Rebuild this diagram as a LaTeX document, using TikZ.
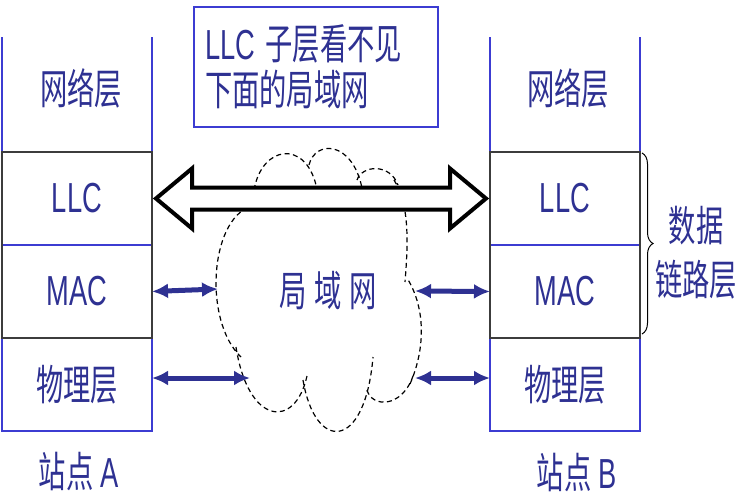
\documentclass[tikz,border=0pt]{standalone}
\usepackage{fontspec}
\setmainfont{Liberation Sans}
\newfontfamily\cjk{Noto Sans CJK SC}
\usepackage{graphicx}
\usepackage{xcolor}
\usepackage{tikz}
\usetikzlibrary{calc,positioning,arrows.meta,decorations.pathreplacing}

\definecolor{txtblue}{RGB}{46,49,146}
\definecolor{lineblue}{RGB}{60,60,210}
\definecolor{framegray}{RGB}{60,60,60}
\newcommand{\sq}[1]{\scalebox{0.65}[1]{#1}}

\begin{document}
\begin{tikzpicture}[x=1pt,y=-1pt,>=Latex,
  lbl/.style={text=txtblue, font=\fontsize{42}{46}\selectfont, inner sep=0pt},
  netlayer/.style={lbl, minimum width=150pt, minimum height=115pt, outer sep=0pt},
  layer/.style={lbl, draw=lineblue, line width=1.2pt, minimum width=150pt, minimum height=93pt, outer sep=0pt},
  lanedge/.style={draw=black, line width=1.2pt, dash pattern=on 5pt off 3.5pt},
  bigarrow/.style={draw=black, fill=white, line width=4pt, line join=miter},
  link/.style={draw=txtblue, line width=5pt, {Latex[length=16pt,width=15pt]}-{Latex[length=16pt,width=15pt]}}]

  \useasboundingbox (0,0) rectangle (756,496);

  % station A
  \node[netlayer] (netA) at (77,94.5) {\hspace{8pt}\raisebox{6pt}[\height][\depth]{\sq{\cjk 网络层}}};
  \node[layer, below=0pt of netA] (llcA) {\sq{LLC}};
  \node[layer, below=0pt of llcA] (macA) {\sq{MAC}};
  \node[layer, below=0pt of macA] (physA) {\sq{\cjk 物理层}};
  \node[lbl] (nameA) at (79,471) {\sq{{\cjk 站点} A}};

  % station B
  \node[netlayer] (netB) at (565,94.5) {\hspace{6pt}\raisebox{6pt}[\height][\depth]{\sq{\cjk 网络层}}};
  \node[layer, below=0pt of netB] (llcB) {\sq{LLC}};
  \node[layer, below=0pt of llcB] (macB) {\sq{MAC}};
  \node[layer, below=0pt of macB] (physB) {\sq{\cjk 物理层}};
  \node[lbl] (nameB) at (577,472) {\sq{{\cjk 站点} B}};

  % open network layers
  \draw[lineblue, line width=1.2pt] (netA.north west) -- (netA.south west) (netA.north east) -- (netA.south east);
  \draw[lineblue, line width=1.2pt] (netB.north west) -- (netB.south west) (netB.north east) -- (netB.south east);

  % data link frames
  \draw[framegray, line width=1.5pt] (llcA.north west) rectangle (macA.south east);
  \draw[framegray, line width=1.5pt] (llcB.north west) rectangle (macB.south east);

  % brace on station B
  \draw[decorate, decoration={brace, amplitude=11pt}, line width=1pt]
    ($(llcB.north east)+(2,1)$) -- ($(macB.south east)+(2,-4)$);
  \node[lbl, align=center, font=\fontsize{42}{54}\selectfont] (dll) at (696,253) {\sq{\cjk 数据}\\\sq{\cjk 链路层}};

  % note box
  \node[lbl, draw=lineblue, line width=1.5pt, minimum height=120pt, text width=222pt, inner xsep=11pt, align=left] (note) at (316,67)
    {\sq{LLC\hspace{16pt}{\cjk 子层看不见}}\\\sq{\cjk 下面的局域网}};

  % local area network cloud
  \draw[lanedge]
    (256,205) .. controls (210,212) and (202,320) .. (241,357)
    (236,347) .. controls (248,425) and (295,430) .. (307,376)
    (303,380) .. controls (315,452) and (365,452) .. (373,357)
    (367,390) .. controls (372,408) and (402,408) .. (413,376)
    (410,384) .. controls (427,345) and (424,305) .. (407,278)
    (394,180) .. controls (410,205) and (408,245) .. (405,282)
    (254,190) .. controls (262,145) and (305,140) .. (316,185)
    (309,165) .. controls (315,140) and (352,140) .. (362,188)
    (357,180) .. controls (362,165) and (390,163) .. (398,185);
  \node[lbl] (lan) at (328,291) {\sq{\cjk 局\hspace{12pt}域\hspace{12pt}网}};

  \coordinate (lanW1) at (218,289);
  \coordinate (lanW2) at (250,378);
  \coordinate (lanE1) at (415,291);
  \coordinate (lanE2) at (415,378);

  % LLC to LLC
  \coordinate (tipL) at ($(llcA.east)+(4,0)$);
  \coordinate (tipR) at ($(llcB.west)+(-4,0)$);
  \draw[bigarrow] (tipL) -- ++(36,-30) -- ++(0,19) -- ($(tipR)+(-36,-11)$) -- ++(0,-19) -- (tipR)
    -- ++(-36,30) -- ++(0,-19) -- ($(tipL)+(36,11)$) -- ++(0,19) -- cycle;

  % links to the network
  \draw[link] (macA.east) -- (lanW1);
  \draw[link] (physA.east |- lanW2) -- (lanW2);
  \draw[link] (lanE1) -- (macB.west);
  \draw[link] (lanE2) -- (physB.west |- lanE2);

\end{tikzpicture}
\end{document}
